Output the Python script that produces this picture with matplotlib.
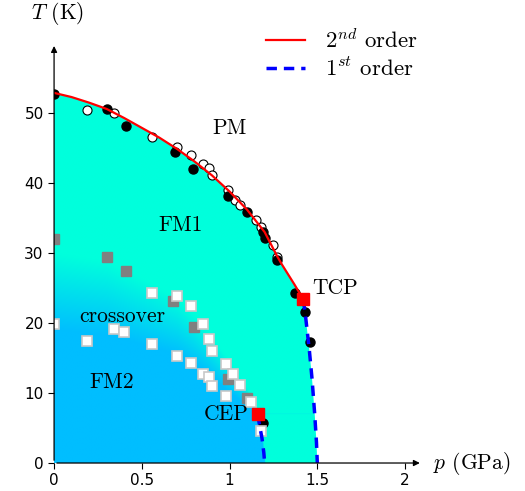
import numpy as np
import matplotlib
matplotlib.use("Agg")
import matplotlib.pyplot as plt
from matplotlib.patches import Polygon

plt.rcParams["mathtext.fontset"] = "cm"

# phase boundaries (p in GPa, T in K)
red_p = [0.0, 0.1, 0.2, 0.3, 0.4, 0.5, 0.6, 0.7, 0.8, 0.9, 1.0, 1.1, 1.2, 1.27, 1.3, 1.37, 1.42]
red_T = [52.9, 52.3, 51.5, 50.6, 49.3, 47.9, 46.5, 44.9, 43.1, 41.1, 38.8, 36.2, 33.0, 29.6, 28.3, 25.5, 23.4]
tcp_line_p = [1.42, 1.435, 1.455, 1.47, 1.485, 1.495, 1.5]
tcp_line_T = [23.4, 20.5, 16.0, 12.0, 7.0, 3.0, 0.0]
cep_line_p = [1.16, 1.17, 1.185, 1.195, 1.2]
cep_line_T = [7.0, 5.5, 3.5, 1.5, 0.0]

# crossover centre and width
cross_p = [0.0, 0.3, 0.56, 0.7, 0.8, 0.9, 1.0, 1.1, 1.16]
cross_T = [24.5, 23.5, 21.0, 19.5, 17.5, 15.0, 12.2, 9.4, 7.0]
cross_w = [11.0, 10.5, 9.0, 8.0, 7.0, 6.0, 4.5, 2.5, 0.01]

# measured points
black_p = [0.0, 0.30, 0.41, 0.69, 0.79, 0.99, 1.10, 1.19, 1.20, 1.27, 1.37, 1.43, 1.46, 1.19]
black_T = [52.8, 50.6, 48.1, 44.5, 42.0, 38.1, 35.9, 33.0, 32.1, 29.0, 24.3, 21.6, 17.3, 5.7]
open_p = [0.19, 0.34, 0.56, 0.70, 0.78, 0.85, 0.88, 0.90, 0.99, 1.03, 1.06, 1.15, 1.18, 1.25, 1.27]
open_T = [50.4, 50.0, 46.6, 45.1, 44.0, 42.8, 42.1, 41.1, 39.0, 37.6, 36.9, 34.7, 33.7, 31.1, 29.4]
gray_p = [0.0, 0.30, 0.41, 0.68, 0.80, 0.99, 1.10]
gray_T = [32.0, 29.4, 27.4, 23.1, 19.4, 12.0, 9.3]
white_p = [0.0, 0.19, 0.34, 0.40, 0.56, 0.56, 0.70, 0.70, 0.78, 0.78, 0.85, 0.88, 0.90,
           0.98, 0.85, 0.88, 0.90, 1.02, 1.06, 0.98, 1.12, 1.18]
white_T = [19.9, 17.4, 19.1, 18.7, 24.3, 17.0, 23.9, 15.3, 22.4, 14.3, 19.9, 17.7, 16.0,
           14.1, 12.7, 12.3, 11.0, 12.7, 11.1, 9.6, 8.7, 4.6]
tcp = (1.42, 23.4)
cep = (1.16, 7.0)

fm2_color = np.array([0, 190, 255]) / 255
fm1_color = np.array([0, 255, 220]) / 255

fig = plt.figure(figsize=(5.25, 4.91), dpi=100)
ax = fig.add_axes([0.103, 0.057, 0.702, 0.855])
ax.set_xlim(0, 2.1)
ax.set_ylim(0, 60)

# coloured ordered region with crossover gradient
pp, TT = np.meshgrid(np.linspace(0, 1.55, 700), np.linspace(0, 55, 700))
Tc = np.interp(pp, cross_p, cross_T)
w = np.interp(pp, cross_p, cross_w)
frac = np.clip((TT - (Tc - w / 2)) / w, 0, 1)
low = TT < cep[1]
frac[low] = (pp[low] > np.interp(TT[low], cep_line_T[::-1], cep_line_p[::-1])).astype(float)
img = (1 - frac)[..., None] * fm2_color + frac[..., None] * fm1_color
im = ax.imshow(img, extent=[0, 1.55, 0, 55], origin="lower", aspect="auto", zorder=1)
poly_pts = list(zip(red_p, red_T)) + list(zip(tcp_line_p, tcp_line_T)) + [(0, 0)]
clip = Polygon(poly_pts, closed=True, transform=ax.transData, facecolor="none", edgecolor="none")
ax.add_patch(clip)
im.set_clip_path(clip)

# markers
ax.plot(open_p, open_T, "o", ms=6.5, mfc="white", mec="black", mew=0.8, zorder=3)
ax.plot(black_p, black_T, "o", ms=6.5, color="black", zorder=3)
ax.plot(gray_p, gray_T, "s", ms=7, color="#808080", zorder=3)
ax.plot(white_p, white_T, "s", ms=7, mfc="white", mec="#c8c8c8", mew=1.2, zorder=3)

# lines
ax.plot(red_p, red_T, color="red", lw=1.6, zorder=4, label=r"$2^{nd}$ order")
ax.plot(tcp_line_p, tcp_line_T, color="blue", lw=2.5, ls=(0, (3, 2)), zorder=4, label=r"$1^{st}$ order")
ax.plot(cep_line_p, cep_line_T, color="blue", lw=2.5, ls=(0, (3, 2)), zorder=4)
ax.plot(*tcp, "s", ms=9, color="red", zorder=5)
ax.plot(*cep, "s", ms=9, color="red", zorder=5)

# region labels
tkw = dict(fontsize=15.5, family="cmr10", ha="center", va="center", zorder=6)
ax.text(1.0, 47.9, "PM", **tkw)
ax.text(0.72, 34.0, "FM1", **tkw)
ax.text(0.39, 21.0, "crossover", **tkw)
ax.text(0.33, 11.6, "FM2", **tkw)
ax.text(0.98, 6.9, "CEP", **tkw)
ax.text(1.6, 25.0, "TCP", **tkw)

# axes with arrows
for s in ax.spines.values():
    s.set_visible(False)
ax.annotate("", xy=(0, 60), xytext=(0, 0), arrowprops=dict(arrowstyle="-|>", color="black", lw=0.9,
            mutation_scale=9), annotation_clip=False, zorder=7)
ax.annotate("", xy=(2.1, 0), xytext=(0, 0), arrowprops=dict(arrowstyle="-|>", color="black", lw=0.9,
            mutation_scale=9), annotation_clip=False, zorder=7)
ax.set_xticks([0, 0.5, 1, 1.5, 2])
ax.set_xticklabels(["0", "0.5", "1", "1.5", "2"])
ax.set_yticks([0, 10, 20, 30, 40, 50])
ax.tick_params(direction="out", length=4, labelsize=11)
ax.text(0.02, 64.2, "$T$ (K)", fontsize=15.5, family="cmr10", ha="center", va="center")
ax.text(2.38, 0.0, "$p$ (GPa)", fontsize=15.5, family="cmr10", ha="center", va="center")

fig.legend(loc="upper left", bbox_to_anchor=(0.484, 0.966), frameon=False, borderpad=0,
           handlelength=1.7, handletextpad=0.9, labelspacing=0.2,
           prop=dict(family="cmr10", size=16.5))

fig.savefig("out.png", dpi=100)
